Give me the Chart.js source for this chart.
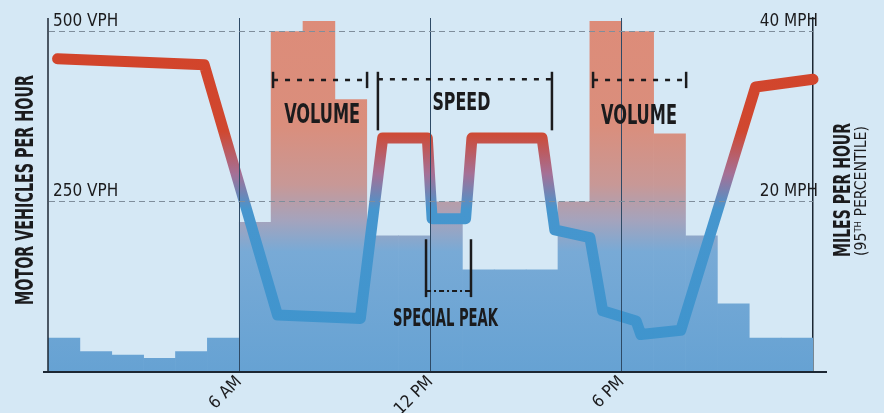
<!DOCTYPE html>
<html>
<head>
<meta charset="utf-8">
<script src="https://cdn.jsdelivr.net/npm/chart.js@4.4.1/dist/chart.umd.min.js"></script>
<style>
  html, body { margin: 0; padding: 0; background: #d5e8f5; }
  canvas { display: block; }
</style>
</head>
<body>
<canvas id="c" width="884" height="413"></canvas>
<script>
// ---------- DATA ----------
const hourLabels = ['12 AM','1 AM','2 AM','3 AM','4 AM','5 AM','6 AM','7 AM','8 AM','9 AM','10 AM','11 AM',
                    '12 PM','1 PM','2 PM','3 PM','4 PM','5 PM','6 PM','7 PM','8 PM','9 PM','10 PM','11 PM'];
// motor vehicles per hour, one bar per hour
const volumeVph = [50, 30, 25, 20, 30, 50, 220, 500, 515, 400, 200, 200,
                   250, 150, 150, 150, 250, 515, 500, 350, 200, 100, 50, 50];
// 95th percentile speed line: hour of day and MPH
const speedHour = [0.3, 4.9, 7.2, 9.8, 10.5, 11.9, 12.05, 13.1, 13.3, 15.5, 15.9, 17.0, 17.4, 18.45, 18.6, 19.85, 22.2, 24.0];
const speedMph  = [36.8, 36.1, 6.7, 6.3, 27.5, 27.5, 18.0, 18.0, 27.5, 27.5, 16.7, 15.8, 7.2, 6.0, 4.4, 4.9, 33.5, 34.4];
// axis ticks
const timeTicks = [6, 12, 18];
const timeTickLabels = ['6 AM', '12 PM', '6 PM'];
const volumeTicks = [250, 500];
const speedTicks = [20, 40];
// text
const volumeTitle = 'MOTOR VEHICLES PER HOUR';
const speedTitle = 'MILES PER HOUR';
const speedSubtitle = ['(95', 'TH', ' PERCENTILE)'];
const noteLabels = ['VOLUME', 'SPEED', 'VOLUME', 'SPECIAL PEAK'];

// ---------- STYLE HELPERS ----------
const FAM = "'Liberation Sans Narrow', 'DejaVu Sans Condensed', 'DejaVu Sans', sans-serif";
const INK = '#1b1b1d';
const AXIS = '#1c2733';

function vGrad(chart, stops) {
  const a = chart.chartArea;
  if (!a) return null;
  const g = chart.ctx.createLinearGradient(0, a.top, 0, a.bottom);
  stops.forEach(s => g.addColorStop(s[0], s[1]));
  return g;
}
const barStops = [[0, 'rgb(221,140,121)'], [0.30, 'rgb(218,142,124)'], [0.47, 'rgb(200,152,150)'],
                  [0.57, 'rgb(165,163,188)'], [0.66, 'rgb(120,170,214)'], [1, 'rgb(102,162,211)']];
const lineStops = [[0, 'rgb(211,66,40)'], [0.32, 'rgb(208,72,48)'], [0.44, 'rgb(165,112,150)'],
                   [0.54, 'rgb(70,150,206)'], [1, 'rgb(62,148,205)']];

function drawCondensed(ctx, text, cx, baseY, font, width, rot) {
  ctx.save();
  ctx.font = font;
  const w = ctx.measureText(text).width;
  ctx.translate(cx, baseY);
  if (rot) ctx.rotate(rot);
  ctx.scale(width / w, 1);
  ctx.textAlign = 'center';
  ctx.textBaseline = 'alphabetic';
  ctx.fillStyle = INK;
  ctx.fillText(text, 0, 0);
  ctx.restore();
}
function line(ctx, x0, y0, x1, y1, w, dash, color) {
  ctx.save();
  ctx.strokeStyle = color || INK;
  ctx.lineWidth = w;
  ctx.setLineDash(dash || []);
  ctx.beginPath(); ctx.moveTo(x0, y0); ctx.lineTo(x1, y1); ctx.stroke();
  ctx.restore();
}

const notesPlugin = {
  id: 'notes',
  afterDraw(chart) {
    const ctx = chart.ctx;
    const a = chart.chartArea;
    const X = h => chart.scales.x.getPixelForValue(h);
    const Y = v => chart.scales.yVol.getPixelForValue(v);

    // left axis line and extended baseline
    line(ctx, a.left, a.top, a.left, a.bottom, 1.5, null, AXIS);
    line(ctx, a.left - 5, a.bottom, a.right + 14, a.bottom, 2, null, AXIS);

    // volume brackets
    [[7.06, 10.01], [17.1, 20.02]].forEach(([h0, h1]) => {
      line(ctx, X(h0), Y(429), X(h1), Y(429), 2.5, [5, 7]);
      line(ctx, X(h0), Y(441), X(h0), Y(417), 2.5);
      line(ctx, X(h1), Y(441), X(h1), Y(417), 2.5);
    });
    // speed bracket
    line(ctx, X(10.35), Y(430), X(15.81), Y(430), 2.5, [5, 7]);
    line(ctx, X(10.35), Y(441), X(10.35), Y(355), 2.5);
    line(ctx, X(15.81), Y(441), X(15.81), Y(355), 2.5);
    // special peak bracket
    line(ctx, X(11.86), Y(195), X(11.86), Y(110), 2.5);
    line(ctx, X(13.27), Y(195), X(13.27), Y(110), 2.5);
    line(ctx, X(11.86), Y(119), X(13.27), Y(119), 2, [5, 3, 2, 3]);

    // notes
    const bold = s => `bold ${s}px ${FAM}`;
    drawCondensed(ctx, noteLabels[0], X(8.6), Y(366), bold(26), 76);
    drawCondensed(ctx, noteLabels[1], X(12.97), Y(385), bold(25), 58);
    drawCondensed(ctx, noteLabels[2], X(18.54), Y(364), bold(26), 76);
    drawCondensed(ctx, noteLabels[3], X(12.47), Y(68), bold(24), 105);

    // axis titles
    const midY = 190;
    drawCondensed(ctx, volumeTitle, 33, midY, bold(25), 230, -Math.PI / 2);
    drawCondensed(ctx, speedTitle, 850, midY, bold(23), 134, -Math.PI / 2);

    // (95TH PERCENTILE)
    ctx.save();
    const f1 = `15px ${FAM}`, f2 = `9px ${FAM}`;
    ctx.font = f1; const w0 = ctx.measureText(speedSubtitle[0]).width;
    const w2 = ctx.measureText(speedSubtitle[2]).width;
    ctx.font = f2; const w1 = ctx.measureText(speedSubtitle[1]).width;
    const tot = w0 + w1 + w2;
    ctx.translate(866, midY + 1);
    ctx.rotate(-Math.PI / 2);
    ctx.scale(130 / tot, 1);
    ctx.fillStyle = INK;
    ctx.textBaseline = 'alphabetic';
    ctx.textAlign = 'left';
    let cx = -tot / 2;
    ctx.font = f1; ctx.fillText(speedSubtitle[0], cx, 0); cx += w0;
    ctx.font = f2; ctx.fillText(speedSubtitle[1], cx, -5); cx += w1;
    ctx.font = f1; ctx.fillText(speedSubtitle[2], cx, 0);
    ctx.restore();
  }
};

const tickFont = { family: FAM, size: 17 };

new Chart(document.getElementById('c'), {
  type: 'bar',
  data: {
    labels: hourLabels,
    datasets: [
      {
        type: 'line',
        label: 'Speed (95th percentile, MPH)',
        data: speedHour.map((h, i) => ({ x: h, y: speedMph[i] })),
        xAxisID: 'x',
        yAxisID: 'ySpeed',
        borderColor: c => vGrad(c.chart, lineStops),
        borderWidth: 11,
        borderJoinStyle: 'round',
        borderCapStyle: 'round',
        pointRadius: 0,
        tension: 0,
        fill: false,
        clip: false,
        order: 0
      },
      {
        type: 'bar',
        label: 'Motor vehicles per hour',
        data: volumeVph,
        xAxisID: 'xCat',
        yAxisID: 'yVol',
        backgroundColor: c => vGrad(c.chart, barStops),
        borderWidth: 0,
        grouped: false,
        barPercentage: 1,
        categoryPercentage: 1,
        order: 1
      }
    ]
  },
  options: {
    responsive: false,
    animation: false,
    events: [],
    devicePixelRatio: 1,
    layout: { padding: { top: 18, left: 0, right: 0, bottom: 0 } },
    plugins: { legend: { display: false }, tooltip: { enabled: false } },
    scales: {
      xCat: { type: 'category', display: false, offset: true },
      x: {
        type: 'linear', position: 'bottom', min: 0, max: 24, offset: false,
        afterBuildTicks: s => { s.ticks = timeTicks.map(v => ({ value: v })); },
        afterFit: s => { s.height = 41; },
        ticks: {
          autoSkip: false, minRotation: 45, maxRotation: 45, padding: 0,
          color: INK, font: tickFont,
          callback: (v, i) => timeTickLabels[i]
        },
        grid: { offset: false, color: '#2e4a66', lineWidth: 1, drawTicks: false, z: 1 },
        border: { display: false }
      },
      yVol: {
        type: 'linear', position: 'left', min: 0, max: 520,
        afterBuildTicks: s => { s.ticks = volumeTicks.map(v => ({ value: v })); },
        afterFit: s => { s.width = 48; },
        ticks: {
          mirror: true, padding: 5, labelOffset: -10,
          color: INK, font: tickFont,
          callback: v => v + ' VPH'
        },
        grid: { color: '#7f8e9c', lineWidth: 1, drawTicks: false, z: 1 },
        border: { display: true, color: 'rgba(0,0,0,0)', width: 1, dash: [6, 4] }
      },
      ySpeed: {
        type: 'linear', position: 'right', min: 0, max: 41.6,
        afterBuildTicks: s => { s.ticks = speedTicks.map(v => ({ value: v })); },
        afterFit: s => { s.width = 71; },
        ticks: {
          mirror: true, padding: 5, labelOffset: -10,
          color: INK, font: tickFont,
          callback: v => v + ' MPH'
        },
        grid: { display: false, drawTicks: false },
        border: { display: true, color: AXIS, width: 1.5 }
      }
    }
  },
  plugins: [notesPlugin]
});
</script>
</body>
</html>
